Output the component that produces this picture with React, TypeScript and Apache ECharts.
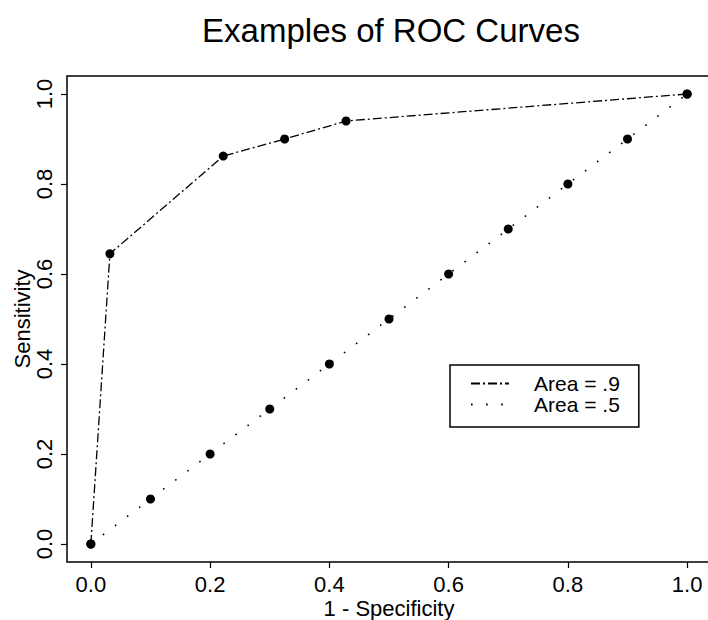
import React, { useEffect, useRef } from "react";
import * as echarts from "echarts";

const titleText = "Examples of ROC Curves";
const xAxisName = "1 - Specificity";
const yAxisName = "Sensitivity";
const tickValues = [0, 0.2, 0.4, 0.6, 0.8, 1.0];
const seriesNames = ["Area = .9", "Area = .5"];
const fprGood = [0, 0.032, 0.222, 0.325, 0.428, 1.0];
const tprGood = [0, 0.645, 0.862, 0.9, 0.94, 1.0];
const fprChance = [0, 0.1, 0.2, 0.3, 0.4, 0.5, 0.6, 0.7, 0.8, 0.9, 1.0];
const tprChance = [0, 0.1, 0.2, 0.3, 0.4, 0.5, 0.6, 0.7, 0.8, 0.9, 1.0];

const FONT = "'Liberation Sans', Arial, Helvetica, sans-serif";

export default function App() {
  const ref = useRef<HTMLDivElement>(null);
  useEffect(() => {
    document.body.style.margin = "0";
    if (!ref.current) return;
    const chart = echarts.init(ref.current, null, { renderer: "svg" });
    const good = fprGood.map((x, i) => [x, tprGood[i]]);
    const chance = fprChance.map((x, i) => [x, tprChance[i]]);
    const labelBase = {
      customValues: tickValues,
      formatter: (v: number) => v.toFixed(1),
      fontSize: 22,
      color: "#000",
      fontFamily: FONT,
    };
    const axisCommon = {
      type: "value" as const,
      min: -0.04,
      max: 1.04,
      splitLine: { show: false },
      axisLine: { show: false, onZero: false },
      axisTick: {
        show: true,
        inside: false,
        length: 6,
        customValues: tickValues,
        lineStyle: { color: "#000", width: 1.2 },
      },
      nameLocation: "middle" as const,
      nameMoveOverlap: false,
      nameTextStyle: { fontSize: 22, color: "#000", fontFamily: FONT },
    };
    chart.setOption({
      animation: false,
      backgroundColor: "#fff",
      title: {
        text: titleText,
        left: 386,
        top: 9,
        textAlign: "center",
        textStyle: { fontSize: 33, fontWeight: "normal", color: "#000", fontFamily: FONT },
      },
      grid: {
        left: 67,
        top: 76,
        width: 644,
        height: 486,
        show: true,
        borderColor: "#000",
        borderWidth: 1.5,
        backgroundColor: "transparent",
        outerBoundsMode: "none",
        containLabel: false,
      },
      legend: {
        data: seriesNames,
        orient: "vertical",
        left: 450,
        top: 365,
        padding: [8, 19, 12, 20],
        borderColor: "#000",
        borderWidth: 1.5,
        itemWidth: 38,
        itemHeight: 12,
        itemGap: 0,
        itemStyle: { color: "rgba(0,0,0,0)", borderColor: "rgba(0,0,0,0)", borderWidth: 0 },
        textStyle: { fontSize: 21, color: "#000", fontFamily: FONT, padding: [0, 0, 0, 20] },
      },
      xAxis: {
        ...axisCommon,
        name: xAxisName,
        nameGap: 35,
        axisLabel: { ...labelBase, margin: 11 },
      },
      yAxis: {
        ...axisCommon,
        name: yAxisName,
        nameGap: 34,
        axisLabel: { ...labelBase, margin: 12, rotate: 90 },
      },
      series: [
        {
          name: seriesNames[0],
          type: "line",
          data: good,
          symbol: "none",
          showSymbol: false,
          lineStyle: { color: "#000", width: 1.3, type: [9, 3, 2, 3] },
          z: 2,
        },
        {
          name: seriesNames[1],
          type: "line",
          data: chance,
          symbol: "none",
          showSymbol: false,
          lineStyle: { color: "#000", width: 1.6, type: [1.6, 13.5] },
          z: 2,
        },
        {
          name: "pts1",
          type: "scatter",
          data: good,
          symbol: "circle",
          symbolSize: 9,
          itemStyle: { color: "#000", opacity: 1 },
          z: 3,
        },
        {
          name: "pts2",
          type: "scatter",
          data: chance,
          symbol: "circle",
          symbolSize: 9,
          itemStyle: { color: "#000", opacity: 1 },
          z: 3,
        },
      ],
    });
    return () => chart.dispose();
  }, []);
  return <div ref={ref} style={{ width: 708, height: 620 }} />;
}
